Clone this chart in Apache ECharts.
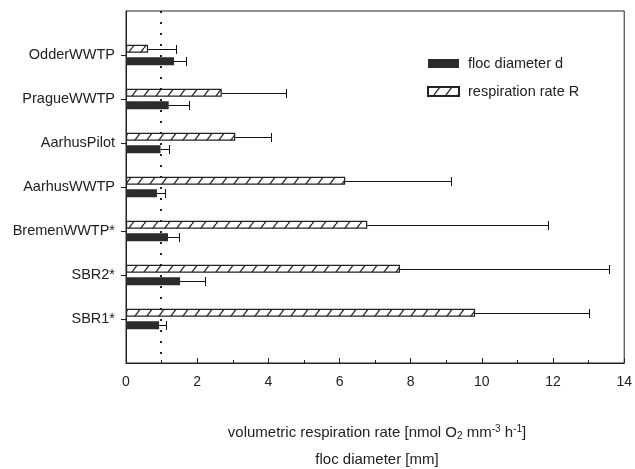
<!DOCTYPE html>
<html><head><meta charset="utf-8">
<script src="https://cdn.jsdelivr.net/npm/echarts@6/dist/echarts.min.js"></script>
<style>html,body{margin:0;padding:0;background:#fff}#c{width:635px;height:469px}</style>
</head><body><div id="c"></div>
<script>
// ---- data (top to bottom as in the figure) ----
const categories = ['OdderWWTP', 'PragueWWTP', 'AarhusPilot', 'AarhusWWTP', 'BremenWWTP*', 'SBR2*', 'SBR1*'];
const respirationRate = [0.62, 2.69, 3.07, 6.16, 6.78, 7.70, 9.81];
const respirationErrTop = [1.41, 4.50, 4.07, 9.12, 11.85, 13.58, 13.02];
const flocDiameter = [1.35, 1.20, 0.97, 0.87, 1.18, 1.52, 0.93];
const flocErrTop = [1.69, 1.76, 1.22, 1.09, 1.49, 2.23, 1.12];
const meanDiameterLine = 0.97;
const xMin = 0, xMax = 14, xInterval = 2;
const legendNames = ['floc diameter d', 'respiration rate R'];

// ---- styling ----
const BAR_W = 8, GAP = 4.5, CAP = 9;
const OFF = (BAR_W + GAP) / 2;
const INK = '#222';
const FONT = 'Liberation Sans, Arial, Helvetica, sans-serif';

function hatch() {
  const w = 12, h = 16;
  const c = document.createElement('canvas');
  c.width = w; c.height = h;
  const g = c.getContext('2d');
  g.fillStyle = '#fff'; g.fillRect(0, 0, w, h);
  g.strokeStyle = '#222'; g.lineWidth = 1.3;
  for (const dx of [-w, 0, w]) {
    g.beginPath(); g.moveTo(dx, h); g.lineTo(dx + w, 0); g.stroke();
  }
  return c;
}

const yData = [''].concat(categories).concat(['']);

function errRender(offset) {
  return function (params, api) {
    const yi = api.value(1);
    const p0 = api.coord([api.value(0), yi]);
    const p1 = api.coord([api.value(2), yi]);
    const cy = Math.round(p0[1] + offset) + 0.5;
    const xe = Math.round(p1[0]) + 0.5;
    return {
      type: 'group', children: [
        { type: 'line', shape: { x1: p0[0], y1: cy, x2: xe, y2: cy }, style: { stroke: '#111', lineWidth: 1 } },
        { type: 'line', shape: { x1: xe, y1: cy - CAP / 2, x2: xe, y2: cy + CAP / 2 }, style: { stroke: '#111', lineWidth: 1 } }
      ]
    };
  };
}

const chart = echarts.init(document.getElementById('c'), null, { renderer: 'canvas' });
chart.setOption({
  animation: false,
  backgroundColor: '#fff',
  grid: { left: 126, right: 7, top: 11, bottom: 106, show: true, borderColor: INK, borderWidth: 1, backgroundColor: 'transparent' },
  legend: {
    data: legendNames, orient: 'vertical', left: 427, top: 56, padding: 0,
    icon: 'rect', itemWidth: 31, itemHeight: 9, itemGap: 13,
    textStyle: { fontSize: 14.5, color: INK, fontFamily: FONT, padding: [0, 0, 0, 4] }
  },
  xAxis: {
    type: 'value', min: xMin, max: xMax, interval: xInterval,
    axisLine: { show: true, lineStyle: { color: INK } },
    axisTick: { show: true, inside: true, length: 5, lineStyle: { color: INK } },
    minorTick: { show: true, splitNumber: 2, length: 3, lineStyle: { color: INK } },
    splitLine: { show: false },
    axisLabel: { fontSize: 14, color: INK, fontFamily: FONT, margin: 12 }
  },
  yAxis: {
    type: 'category', data: yData, inverse: true, boundaryGap: false,
    axisLine: { show: true, lineStyle: { color: INK } },
    axisTick: { show: true, length: 5, interval: function (i, v) { return v !== ''; }, lineStyle: { color: INK } },
    axisLabel: { fontSize: 14.5, color: INK, fontFamily: FONT, margin: 11, interval: 0 },
    splitLine: { show: false }
  },
  series: [
    {
      name: 'respiration rate R', type: 'bar', barWidth: BAR_W, barGap: (GAP / BAR_W * 100) + '%',
      data: [null].concat(respirationRate).concat([null]),
      itemStyle: { color: { image: hatch(), repeat: 'repeat' }, borderColor: INK, borderWidth: 1.2 }
    },
    {
      name: 'floc diameter d', type: 'bar', barWidth: BAR_W, barGap: (GAP / BAR_W * 100) + '%',
      data: [null].concat(flocDiameter).concat([null]),
      itemStyle: { color: '#2c2c2c', borderColor: '#2c2c2c', borderWidth: 0 },
      markLine: {
        silent: true, symbol: ['none', 'none'], label: { show: false },
        lineStyle: { type: [2, 9], color: INK, width: 2 },
        data: [{ xAxis: meanDiameterLine }]
      }
    },
    {
      type: 'custom', name: 'respErr', renderItem: errRender(-OFF), encode: { x: [0, 2], y: 1 },
      data: categories.map((c, i) => [respirationRate[i], i + 1, respirationErrTop[i]]), z: 3
    },
    {
      type: 'custom', name: 'flocErr', renderItem: errRender(OFF), encode: { x: [0, 2], y: 1 },
      data: categories.map((c, i) => [flocDiameter[i], i + 1, flocErrTop[i]]), z: 3
    }
  ],
  graphic: [
    {
      type: 'text', x: 377, y: 433,
      style: {
        text: '{a|volumetric respiration rate [nmol O}{b|2}{a| mm}{c|-3}{a| h}{c|-1}{a|]}',
        align: 'center', verticalAlign: 'middle',
        rich: {
          a: { fontSize: 15, fill: INK, fontFamily: FONT },
          b: { fontSize: 10, fill: INK, fontFamily: FONT, padding: [7, 0, 0, 0] },
          c: { fontSize: 10, fill: INK, fontFamily: FONT, padding: [0, 0, 7, 0] }
        }
      }
    },
    {
      type: 'text', x: 377, y: 460,
      style: { text: 'floc diameter [mm]', align: 'center', verticalAlign: 'middle', fontSize: 15, fill: INK, fontFamily: FONT }
    }
  ]
});
</script>
</body></html>
